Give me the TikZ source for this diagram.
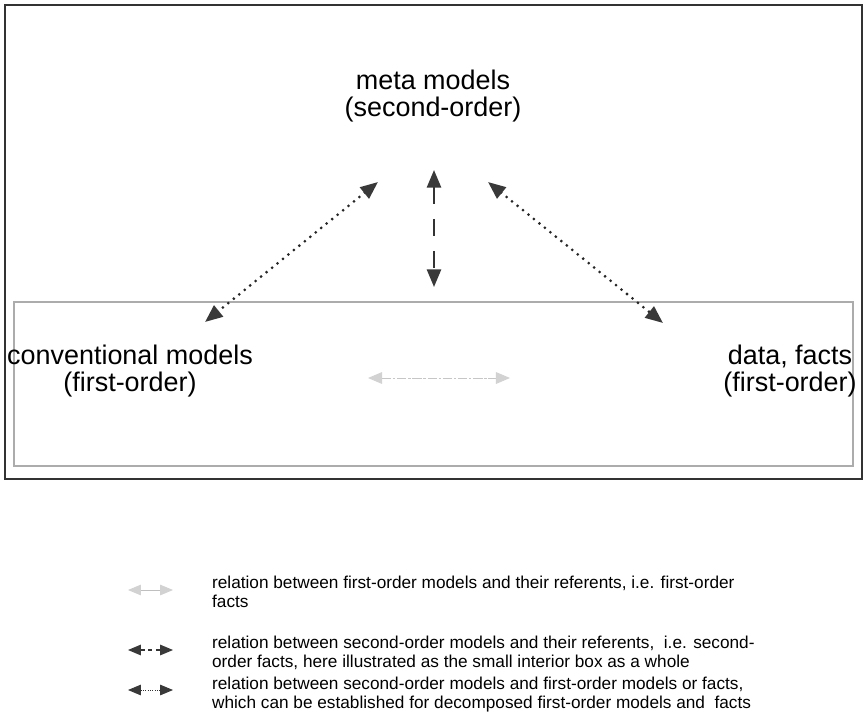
\documentclass[tikz,border=0pt]{standalone}
\usepackage{fontspec}
\setmainfont{Liberation Sans}
\usetikzlibrary{arrows.meta}

\begin{document}
\begin{tikzpicture}[x=0.03cm,y=-0.03cm,
        bigtext/.style={align=center,font=\fontsize{23}{23}\selectfont},
        legtext/.style={anchor=west,align=left,font=\fontsize{14.7}{16.2}\selectfont},
        dotrel/.style={{Triangle[length=15pt,width=12pt,color=gray!45!black]}-{Triangle[length=15pt,width=12pt,color=gray!45!black]},
                draw=black!85,line width=2.6pt,line cap=round,dash pattern=on 0pt off 6pt},
        dashrel/.style={{Triangle[length=15pt,width=12pt,color=gray!45!black]}-{Triangle[length=15pt,width=12pt,color=gray!45!black]},
                draw=black!80,line width=2pt,dash pattern=on 14.5pt off 12.8pt},
        factrel/.style={{Triangle[length=12pt,width=10pt,color=gray!35]}-{Triangle[length=12pt,width=10pt,color=gray!35]},
                draw=gray!45,line width=0.8pt,dash pattern=on 8pt off 1.5pt on 2pt off 1.5pt}]
        \useasboundingbox (0,0) rectangle (867,726);

        \draw[gray!40!black,line width=2pt] (5,5) rectangle (862,479);
        \draw[gray!65,line width=1.4pt] (14,302) rectangle (853,466);

        \node (meta) [bigtext] at (433,96) {meta models\\(second-order)};
        \node (conv) [bigtext] at (130,371) {conventional models\\(first-order)};
        \node (data) [bigtext] at (790,371) {data, facts\\(first-order)};

        \coordinate (metaL) at (378,182);
        \coordinate (metaC) at (434,170);
        \coordinate (metaR) at (488,182);
        \coordinate (convT) at (205,322);
        \coordinate (boxT) at (434,287);
        \coordinate (dataT) at (663,323);
        \coordinate (convR) at (368,378);
        \coordinate (dataL) at (510,378);

        \draw[dotrel] (metaL) -- (convT);
        \draw[dotrel] (metaR) -- (dataT);
        \draw[dashrel] (metaC) -- (boxT);
        \draw[factrel] (convR) -- (dataL);

        \node (leg1) [legtext] at (208,592) {relation between first-order models and their referents, i.e. first-order\\facts};
        \node (leg2) [legtext] at (208,653) {relation between second-order models and their referents,\ \ i.e. second-\\order facts, here illustrated as the small interior box as a whole};
        \node (leg3) [legtext] at (208,695) {relation between second-order models and first-order models or facts,\\which can be established for decomposed first-order models and\ \ facts};

        \coordinate (k1a) at (128,590);
        \coordinate (k1b) at (173,590);
        \coordinate (k2a) at (128,650);
        \coordinate (k2b) at (173,650);
        \coordinate (k3a) at (128,690);
        \coordinate (k3b) at (173,690);

        \draw[{Triangle[length=11pt,width=9pt,color=gray!35]}-{Triangle[length=11pt,width=9pt,color=gray!35]},draw=gray!50,line width=0.8pt] (k1a) -- (k1b);
        \draw[{Triangle[length=11pt,width=9pt,color=gray!45!black]}-{Triangle[length=11pt,width=9pt,color=gray!45!black]},draw=black!80,line width=1pt,dash pattern=on 3.5pt off 3pt] (k2a) -- (k2b);
        \draw[{Triangle[length=11pt,width=9pt,color=gray!45!black]}-{Triangle[length=11pt,width=9pt,color=gray!45!black]},draw=black!80,line width=0.8pt,dash pattern=on 0.8pt off 1.2pt] (k3a) -- (k3b);
\end{tikzpicture}
\end{document}
